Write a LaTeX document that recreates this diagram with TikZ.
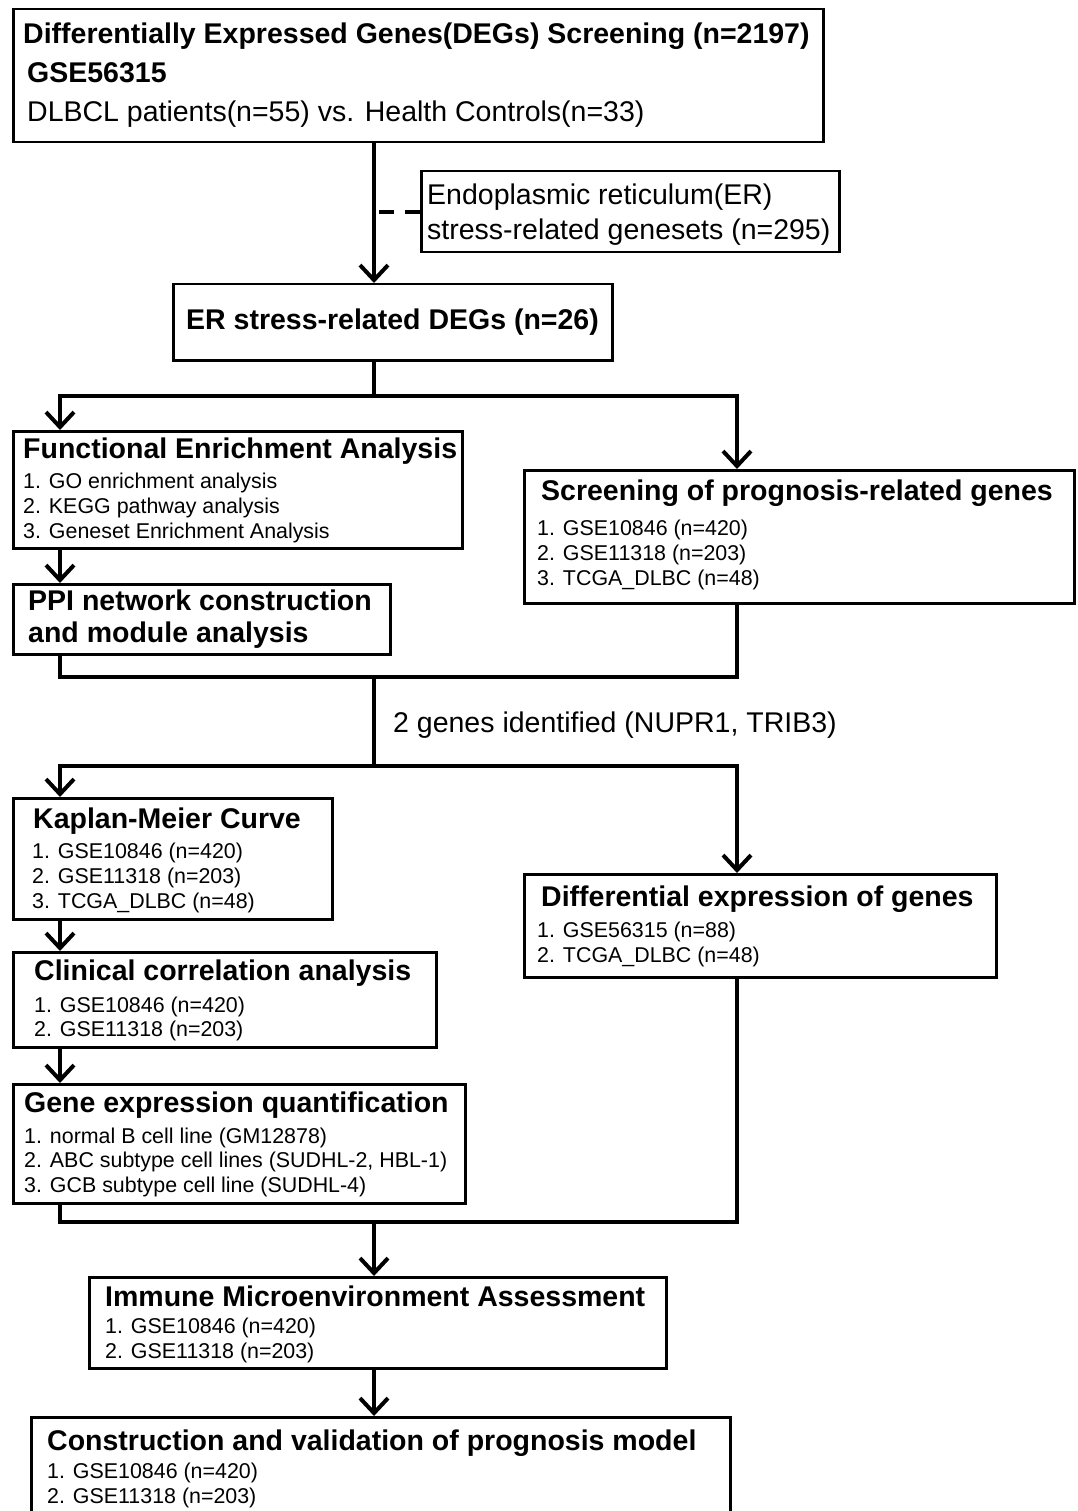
\documentclass[tikz,border=0pt]{standalone}
\usepackage{fontspec}
\setmainfont{Liberation Sans}
\usetikzlibrary{arrows.meta}
\begin{document}
\begin{tikzpicture}[x=1pt,y=-1pt,
 box/.style={draw, line width=2.5pt, inner sep=0pt, anchor=north west},
 hd/.style={anchor=base west, inner sep=0pt, font=\fontsize{28.5}{32}\selectfont\bfseries},
 big/.style={anchor=base west, inner sep=0pt, font=\fontsize{28.5}{32}\selectfont},
 sm/.style={anchor=base west, inner sep=0pt, font=\fontsize{21.4}{24}\selectfont},
 conn/.style={line width=4pt, line cap=rect},
 arr/.style={conn, -{Straight Barb[length=15pt,width=28pt]}}]
\fill[white] (0,0) rectangle (1077,1511);
\clip (0,0) rectangle (1077,1511);

% boxes
\node[box, minimum width=810pt, minimum height=133pt] (b1) at (12,8) {};
\node[box, minimum width=418pt, minimum height=81pt] (gs) at (420,170) {};
\node[box, minimum width=439pt, minimum height=76pt] (b2) at (172,283) {};
\node[box, minimum width=449pt, minimum height=117pt] (b3) at (12,430) {};
\node[box, minimum width=550pt, minimum height=133pt] (b4) at (523,469) {};
\node[box, minimum width=377pt, minimum height=70pt] (b5) at (12,583) {};
\node[box, minimum width=319pt, minimum height=121pt] (b6) at (12,797) {};
\node[box, minimum width=472pt, minimum height=103pt] (b7) at (523,873) {};
\node[box, minimum width=423pt, minimum height=95pt] (b8) at (12,951) {};
\node[box, minimum width=452pt, minimum height=119pt] (b9) at (12,1083) {};
\node[box, minimum width=577pt, minimum height=91pt] (b10) at (88,1276) {};
\node[box, minimum width=699pt, minimum height=124pt] (b11) at (30,1416) {};

% texts
\node[hd] (t1a) at (23,44) {Differentially Expressed Genes(DEGs) Screening (n=2197)};
\node[hd] (t1b) at (27,83) {GSE56315};
\node[big] (t1c) at (27,122) {DLBCL patients(n=55) vs. Health Controls(n=33)};
\node[big] (gs1) at (427,205) {Endoplasmic reticulum(ER)};
\node[big] (gs2) at (427,240) {stress-related genesets (n=295)};
\node[hd] (t2) at (186,330) {ER stress-related DEGs (n=26)};

\node[hd] (t3) at (23,458) {Functional Enrichment Analysis};
\node[sm] (t3a) at (23,488) {1. GO enrichment analysis};
\node[sm] (t3b) at (23,513) {2. KEGG pathway analysis};
\node[sm] (t3c) at (23,538) {3. Geneset Enrichment Analysis};

\node[hd] (t4) at (541,500) {Screening of prognosis-related genes};
\node[sm] (t4a) at (537,535) {1. GSE10846 (n=420)};
\node[sm] (t4b) at (537,560) {2. GSE11318 (n=203)};
\node[sm] (t4c) at (537,585) {3. TCGA\_DLBC (n=48)};

\node[hd] (t5a) at (28,610) {PPI network construction};
\node[hd] (t5b) at (28,642) {and module analysis};

\node[big] (lab) at (393,732) {2 genes identified (NUPR1, TRIB3)};

\node[hd] (t6) at (33,828) {Kaplan-Meier Curve};
\node[sm] (t6a) at (32,858) {1. GSE10846 (n=420)};
\node[sm] (t6b) at (32,883) {2. GSE11318 (n=203)};
\node[sm] (t6c) at (32,908) {3. TCGA\_DLBC (n=48)};

\node[hd] (t7) at (541,906) {Differential expression of genes};
\node[sm] (t7a) at (537,937) {1. GSE56315 (n=88)};
\node[sm] (t7b) at (537,962) {2. TCGA\_DLBC (n=48)};

\node[hd] (t8) at (34,980) {Clinical correlation analysis};
\node[sm] (t8a) at (34,1012) {1. GSE10846 (n=420)};
\node[sm] (t8b) at (34,1036) {2. GSE11318 (n=203)};

\node[hd] (t9) at (24,1112) {Gene expression quantification};
\node[sm] (t9a) at (24,1143) {1. normal B cell line (GM12878)};
\node[sm] (t9b) at (24,1167) {2. ABC subtype cell lines (SUDHL-2, HBL-1)};
\node[sm] (t9c) at (24,1192) {3. GCB subtype cell line (SUDHL-4)};

\node[hd] (t10) at (105,1306) {Immune Microenvironment Assessment};
\node[sm] (t10a) at (105,1333) {1. GSE10846 (n=420)};
\node[sm] (t10b) at (105,1358) {2. GSE11318 (n=203)};

\node[hd] (t11) at (47,1450) {Construction and validation of prognosis model};
\node[sm] (t11a) at (47,1478) {1. GSE10846 (n=420)};
\node[sm] (t11b) at (47,1503) {2. GSE11318 (n=203)};

% junction coordinates
\coordinate (j1) at (374,396);
\coordinate (sL) at (60,396);
\coordinate (sR) at (737,396);
\coordinate (j2) at (374,677);
\coordinate (j3) at (374,766);
\coordinate (j4) at (374,1222);

% connectors
\draw[arr] (b1.south -| j1) -- (b2.north -| j1);
\draw[line width=4pt, dash pattern=on 15pt off 11pt] (gs.west) -- (gs.west -| j1);
\draw[conn] (b2.south -| j1) -- (j1);
\draw[arr] (j1) -- (sL) -- (b3.north -| sL);
\draw[arr] (j1) -- (sR) -- (b4.north -| sR);
\draw[arr] (b3.south -| sL) -- (b5.north -| sL);
\draw[conn] (b5.south -| sL) |- (j2);
\draw[conn] (b4.south -| sR) |- (j2);
\draw[conn] (j2) -- (j3);
\draw[arr] (j3) -| (b6.north -| sL);
\draw[arr] (j3) -| (b7.north -| sR);
\draw[arr] (b6.south -| sL) -- (b8.north -| sL);
\draw[arr] (b8.south -| sL) -- (b9.north -| sL);
\draw[conn] (b9.south -| sL) |- (j4);
\draw[conn] (b7.south -| sR) |- (j4);
\draw[arr] (j4) -- (b10.north -| j4);
\draw[arr] (b10.south -| j4) -- (b11.north -| j4);
\end{tikzpicture}
\end{document}
